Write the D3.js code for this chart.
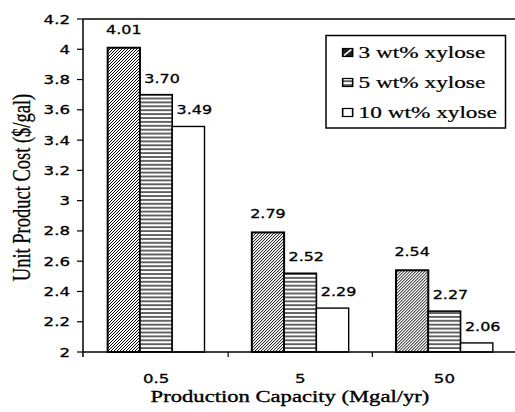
<!DOCTYPE html>
<html><head><meta charset="utf-8">
<script src="https://cdn.jsdelivr.net/npm/d3@7"></script>
<style>body{margin:0;background:#fff}svg{display:block}</style>
</head><body>
<svg id="c" width="515" height="412"></svg>
<script>
const categories = ["0.5", "5", "50"];
const seriesNames = ["3 wt% xylose", "5 wt% xylose", "10 wt% xylose"];
const values3 = [4.01, 2.79, 2.54];
const values5 = [3.70, 2.52, 2.27];
const values10 = [3.49, 2.29, 2.06];
const yTicks = [2, 2.2, 2.4, 2.6, 2.8, 3, 3.2, 3.4, 3.6, 3.8, 4, 4.2];
const yTickLabels = ["2", "2.2", "2.4", "2.6", "2.8", "3", "3.2", "3.4", "3.6", "3.8", "4", "4.2"];
const xTitle = "Production Capacity (Mgal/yr)";
const yTitle = "Unit Product Cost ($/gal)";

const SX = 1.33;
const svg = d3.select("#c");
const L = 83, R = 516.5, T = 19, B = 352;
const numFont = "'DejaVu Sans', Verdana, sans-serif";
const serif = "'Liberation Serif', 'Times New Roman', serif";

const seriesVals = [values3, values5, values10];
const data = categories.map((c, i) => ({cat: c, vals: seriesVals.map((s, j) => ({s: j, v: s[i]}))}));

const x0 = d3.scaleBand().domain(categories).range([L + 1, R]).padding(0);
const x1 = d3.scaleBand().domain([0, 1, 2]).range([0, x0.bandwidth()]).paddingInner(0).paddingOuter(0.733);
const y = d3.scaleLinear().domain([2, 4.2]).range([B, T]);

// patterns
const defs = svg.append("defs");
const pd = defs.append("pattern").attr("id", "diag").attr("patternUnits", "userSpaceOnUse")
  .attr("width", 3).attr("height", 3);
pd.append("rect").attr("width", 3).attr("height", 3).attr("fill", "#fff");
pd.append("path").attr("d", "M-1,1 L1,-1 M0,3 L3,0 M2,4 L4,2").attr("stroke", "#000").attr("stroke-width", 1);
const ph = defs.append("pattern").attr("id", "horiz").attr("patternUnits", "userSpaceOnUse")
  .attr("width", 4).attr("height", 3.9);
ph.append("rect").attr("width", 4).attr("height", 3.9).attr("fill", "#fff");
ph.append("line").attr("x1", 0).attr("x2", 4).attr("y1", 1).attr("y2", 1).attr("stroke", "#000").attr("stroke-width", 1.2);
const fills = ["url(#diag)", "url(#horiz)", "#fff"];
const strokeW = [2, 1.6, 1.4];

// bars
const groups = svg.append("g").selectAll("g").data(data).join("g")
  .attr("transform", d => `translate(${x0(d.cat)},0)`);
groups.selectAll("rect").data(d => d.vals).join("rect")
  .attr("x", d => x1(d.s)).attr("width", x1.bandwidth())
  .attr("y", d => y(d.v)).attr("height", d => B - y(d.v))
  .attr("fill", d => fills[d.s]).attr("stroke", "#000").attr("stroke-width", d => strokeW[d.s]);

// helper: horizontally stretched text
function stext(parent, tx, ty, str, opts) {
  const g = parent.append("g").attr("transform", `translate(${tx},${ty}) scale(${SX},1)` + (opts.rotate ? ` rotate(${opts.rotate})` : ""));
  g.append("text").text(str).attr("font-family", opts.family).attr("font-size", opts.size)
    .attr("text-anchor", opts.anchor || "middle").attr("dy", opts.dy || 0).attr("fill", "#000")
    .attr("stroke", "#000").attr("stroke-width", opts.sw || 0.3);
  return g;
}

// data labels
const lab = svg.append("g");
data.forEach(d => d.vals.forEach(v => {
  const cx = x0(d.cat) + x1(v.s) + x1.bandwidth() / 2 + (v.s > 0 ? 6 : 0);
  stext(lab, cx, y(v.v) - 14 + (v.s > 0 ? 2 : 0), v.v.toFixed(2), {family: numFont, size: 12});
}));

// axes lines
svg.append("line").attr("x1", L).attr("x2", 515).attr("y1", T).attr("y2", T).attr("stroke", "#000").attr("stroke-width", 1.5);
svg.append("line").attr("x1", L).attr("x2", L).attr("y1", T).attr("y2", B + 5).attr("stroke", "#000").attr("stroke-width", 1.5);
svg.append("line").attr("x1", L).attr("x2", 515).attr("y1", B).attr("y2", B).attr("stroke", "#000").attr("stroke-width", 1.5);

// y ticks
const yt = svg.append("g");
yTicks.forEach((t, i) => {
  yt.append("line").attr("x1", L - 6).attr("x2", L).attr("y1", y(t)).attr("y2", y(t)).attr("stroke", "#000").attr("stroke-width", 1.2);
  stext(yt, 70, y(t), yTickLabels[i], {family: numFont, size: 12.5, anchor: "end", dy: "0.36em"});
});

// x ticks at band boundaries
const xt = svg.append("g");
categories.forEach((c, i) => {
  if (i > 0) xt.append("line").attr("x1", x0(c)).attr("x2", x0(c)).attr("y1", B).attr("y2", B + 5).attr("stroke", "#000").attr("stroke-width", 1.2);
  stext(xt, x0(c) + x0.bandwidth() / 2, 382.5, c, {family: numFont, size: 12.5});
});

// titles
stext(svg, 290, 401.5, xTitle, {family: serif, size: 17, sw: 0.35});
stext(svg, 21, 187.5, yTitle, {family: serif, size: 18.5, rotate: -90, dy: "0.35em", sw: 0.2});

// legend
const lg = svg.append("g");
lg.append("rect").attr("x", 326).attr("y", 35.5).attr("width", 179.5).attr("height", 92.5)
  .attr("fill", "#fff").attr("stroke", "#000").attr("stroke-width", 1.5);
seriesNames.forEach((s, i) => {
  const by = 58 + i * 30;
  const g = lg.append("g").attr("transform", `translate(342,${by}) scale(${SX},1)`);
  g.append("rect").attr("x", 0.5).attr("y", -9.5).attr("width", 7.5).attr("height", 8)
    .attr("fill", i === 0 ? "#222" : fills[i]).attr("stroke", "#000").attr("stroke-width", 1.2);
  if (i === 0) g.append("line").attr("x1", 1.5).attr("y1", -2.5).attr("x2", 7).attr("y2", -8.5).attr("stroke", "#fff").attr("stroke-width", 1.3);
  g.append("text").attr("x", 12.5).attr("y", 0).text(s).attr("font-family", serif).attr("font-size", 17.5)
    .attr("fill", "#000").attr("stroke", "#000").attr("stroke-width", 0.25);
});
</script>
</body></html>
